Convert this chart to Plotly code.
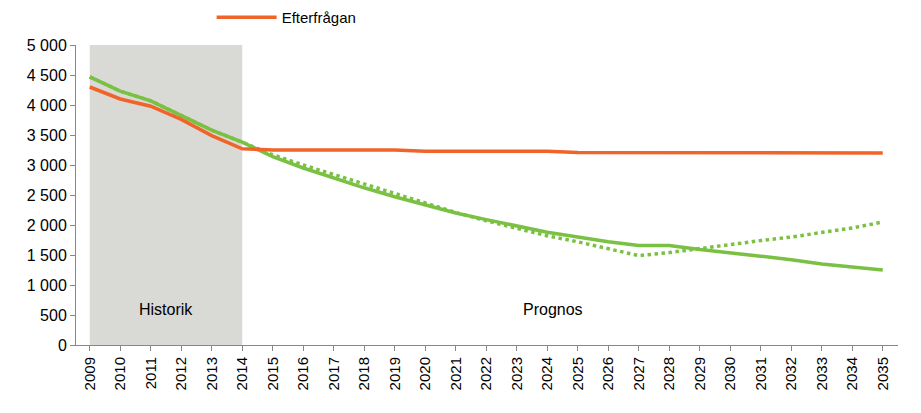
import plotly.graph_objects as go

years = list(range(2009, 2036))
tillgang = [4470, 4230, 4070, 3830, 3580, 3380, 3140, 2950, 2780, 2620, 2470, 2330, 2200, 2090,
            1980, 1880, 1800, 1720, 1660, 1660, 1590, 1540, 1480, 1420, 1350, 1300, 1250]
tillgang_ej = [4470, 4230, 4070, 3830, 3580, 3380, 3170, 3000, 2840, 2680, 2520, 2360, 2210, 2070,
               1940, 1820, 1720, 1610, 1490, 1540, 1610, 1680, 1740, 1800, 1870, 1950, 2050]
efterfragan = [4300, 4100, 3980, 3760, 3490, 3270, 3250, 3250, 3250, 3250, 3250, 3230, 3230, 3230,
               3230, 3230, 3210, 3210, 3210, 3210, 3210, 3210, 3210, 3210, 3200, 3200, 3200]
y_ticks = list(range(0, 5001, 500))
y_labels = [f"{v:,}".replace(",", " ") for v in y_ticks]

green = "#7ac143"
orange = "#f0642a"

fig = go.Figure()
fig.add_vrect(x0=2009, x1=2014, fillcolor="#d9d9d6", line_width=0, layer="below")
fig.add_trace(go.Scatter(x=years, y=tillgang, mode="lines", name="Tillgång",
                         line=dict(color=green, width=3.5)))
fig.add_trace(go.Scatter(x=years, y=tillgang_ej, mode="lines", name="Tillgång ej flyttning",
                         line=dict(color=green, width=3.5, dash="dot")))
fig.add_trace(go.Scatter(x=years, y=efterfragan, mode="lines", name="Efterfrågan",
                         line=dict(color=orange, width=3.5)))

fig.add_annotation(x=2011.5, y=600, text="Historik", showarrow=False,
                   font=dict(size=16, color="#000"))
fig.add_annotation(x=2024.2, y=600, text="Prognos", showarrow=False,
                   font=dict(size=16, color="#000"))

fig.update_layout(
    width=921, height=413,
    margin=dict(l=68, r=31, t=37, b=76, autoexpand=False),
    plot_bgcolor="white", paper_bgcolor="white",
    font=dict(family="Liberation Sans, Arial, sans-serif", size=15, color="#000"),
    legend=dict(orientation="h", x=0.165, y=1.13, xanchor="left", yanchor="middle",
                font=dict(size=15), itemwidth=60, entrywidth=220, bgcolor="rgba(0,0,0,0)"),
    showlegend=True,
)
fig.update_xaxes(range=[2008.55, 2035.5], tickmode="array", tickvals=years,
                 ticktext=[str(y) for y in years], tickangle=-90,
                 showgrid=False, showline=True, linecolor="#888", ticks="outside",
                 ticklen=5, tickcolor="#888", zeroline=False)
fig.update_yaxes(range=[0, 5000], tickvals=y_ticks, ticktext=y_labels,
                 showgrid=False, showline=True, linecolor="#888", ticks="outside",
                 ticklen=5, tickcolor="#888", zeroline=False, tickfont=dict(size=16))

fig.write_html("out.html")
